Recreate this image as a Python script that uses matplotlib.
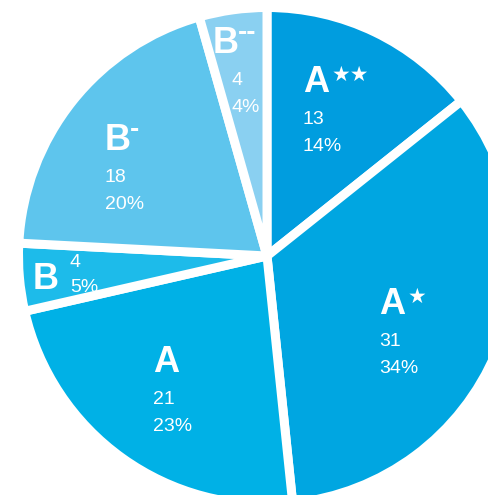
import matplotlib

matplotlib.use("Agg")
import matplotlib.pyplot as plt

# ---- data ---------------------------------------------------------------- #
grades = ["A", "A", "A", "B", "B", "B"]
marks = ["★★", "★", "", "", "-", "--"]
counts = [13, 31, 21, 4, 18, 4]
pcts = ["14%", "34%", "23%", "5%", "20%", "4%"]
colors = ["#009ddf", "#00a6e1", "#00b1e6", "#1dbbea", "#5ec5ed", "#8ad0f1"]

# label anchors in pixel coords (x of letter, baseline of letter), and
# offset / line spacing of the count-percent block from that anchor
label_pos = [(303, 92), (379, 314), (153, 372), (33, 289), (105, 150), (213, 53)]
block_off = [(0, 32, 27), (0, 32, 27), (0, 32, 27), (37, -22, 25), (0, 32, 27), (18, 32, 27)]

W, H = 489, 495
CX, CY, R = 267, 256, 244
GAP = 9  # white gap between slices, px

fig = plt.figure(figsize=(W / 100, H / 100), dpi=100)
ax = fig.add_axes([0, 0, 1, 1])

ax.pie(counts, colors=colors, startangle=90, counterclock=False,
       center=(CX, H - CY), radius=R + GAP / 2,
       wedgeprops=dict(edgecolor="white", linewidth=GAP * 72 / 100,
                       joinstyle="round"))
ax.set_xlim(0, W)
ax.set_ylim(0, H)
ax.set_aspect("equal")
ax.axis("off")

fam = ["Liberation Sans", "DejaVu Sans"]
for g, m, c, p, (x, y), (dx, dy, sp) in zip(grades, marks, counts, pcts, label_pos, block_off):
    yb = H - y
    ax.text(x, yb, g, color="white", fontsize=26, fontweight="bold",
            family=fam, ha="left", va="baseline")
    if "★" in m:
        ax.text(x + 29, yb + 11, m, color="white", fontsize=15,
                family=["DejaVu Sans"], ha="left", va="baseline")
    elif m:
        ax.text(x + 25, yb + 13, m, color="white", fontsize=20,
                fontweight="bold", family=fam, ha="left", va="baseline")
    bx, by = x + dx, yb - dy
    ax.text(bx, by, str(c), color="white", fontsize=14, family=fam,
            ha="left", va="baseline")
    ax.text(bx, by - sp, p, color="white", fontsize=14, family=fam,
            ha="left", va="baseline")

fig.savefig("out.png", dpi=100)
plt.close(fig)
